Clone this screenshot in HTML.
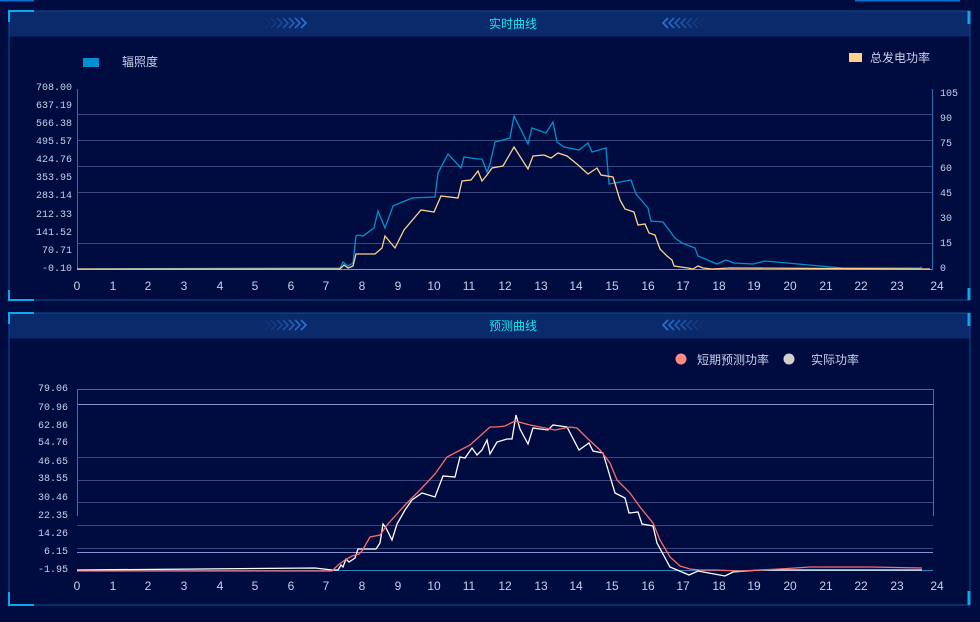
<!DOCTYPE html>
<html><head><meta charset="utf-8"><style>
html,body{margin:0;padding:0;background:#000c40;width:980px;height:622px;overflow:hidden}
svg{display:block;font-family:"Liberation Sans","Noto Sans CJK SC",sans-serif}
</style></head><body>
<svg width="980" height="622" viewBox="0 0 980 622">
<defs>
<g id="chl" fill="none" stroke-width="1.6">
<path d="M265 18l5 5-5 5" stroke="#12306e"/><path d="M271 18l5 5-5 5" stroke="#163a80"/><path d="M277 18l5 5-5 5" stroke="#1a4590"/><path d="M283 18l5 5-5 5" stroke="#1e52a4"/><path d="M289 18l5 5-5 5" stroke="#225eb6"/><path d="M295 18l5 5-5 5" stroke="#2868c4"/><path d="M301 18l5 5-5 5" stroke="#2e74d0"/>
</g>
<g id="chr" fill="none" stroke-width="1.6">
<path d="M668 18l-5 5 5 5" stroke="#2e74d0"/><path d="M674 18l-5 5 5 5" stroke="#2868c4"/><path d="M680 18l-5 5 5 5" stroke="#225eb6"/><path d="M686 18l-5 5 5 5" stroke="#1e52a4"/><path d="M692 18l-5 5 5 5" stroke="#1a4590"/><path d="M698 18l-5 5 5 5" stroke="#163a80"/><path d="M704 18l-5 5 5 5" stroke="#12306e"/>
</g>
</defs>
<rect width="980" height="622" fill="#000c40"/>
<rect x="0" y="0" width="34" height="1.5" fill="#0a6fd0"/>
<rect x="855" y="0" width="105" height="1.5" fill="#0a6fd0"/>
<!-- top panel -->
<rect x="9" y="11" width="961" height="289" fill="none" stroke="#0a4f95" stroke-width="1"/>
<rect x="9.5" y="11.5" width="960" height="25" fill="#0a2a6c"/>
<path d="M9 22V11H34" fill="none" stroke="#0aa8f0" stroke-width="2"/>
<path d="M9 290V300H34" fill="none" stroke="#0aa8f0" stroke-width="2"/>
<path d="M969 11V24" stroke="#0aa8f0" stroke-width="3"/>
<path d="M969 288V300" stroke="#0aa8f0" stroke-width="3"/>
<use href="#chl"/><use href="#chr"/>
<text x="513" y="28" fill="#19e4f0" font-size="12" text-anchor="middle">实时曲线</text>
<rect x="83" y="58" width="16" height="9" fill="#0090d0"/>
<text x="122" y="66" fill="#c8d0e8" font-size="12">辐照度</text>
<rect x="849" y="53" width="13" height="9" fill="#ffd08a"/>
<text x="870" y="62" fill="#c8d0e8" font-size="12">总发电功率</text>
<g stroke="#3a4680" stroke-width="1">
<line x1="77" y1="114.5" x2="932" y2="114.5"/><line x1="77" y1="140.5" x2="932" y2="140.5"/>
<line x1="77" y1="166.5" x2="932" y2="166.5"/><line x1="77" y1="192.5" x2="932" y2="192.5"/>
<line x1="77" y1="243.5" x2="932" y2="243.5"/>
</g>
<line x1="77" y1="269.5" x2="932" y2="269.5" stroke="#8a90c0"/>
<line x1="77.5" y1="89" x2="77.5" y2="270" stroke="#2a70b0"/>
<line x1="932.5" y1="89" x2="932.5" y2="270" stroke="#2a70b0"/>
<g fill="#c8d0e8" font-size="10" text-anchor="end" font-family="Liberation Mono,monospace">
<text x="72" y="90">708.00</text><text x="72" y="108">637.19</text><text x="72" y="126">566.38</text>
<text x="72" y="144">495.57</text><text x="72" y="162">424.76</text><text x="72" y="180">353.95</text>
<text x="72" y="198">283.14</text><text x="72" y="217">212.33</text><text x="72" y="235">141.52</text>
<text x="72" y="253">70.71</text><text x="72" y="271">-0.10</text>
</g>
<g fill="#c8d0e8" font-size="10" font-family="Liberation Mono,monospace">
<text x="940" y="96">105</text><text x="940" y="121">90</text><text x="940" y="146">75</text><text x="940" y="171">60</text>
<text x="940" y="196">45</text><text x="940" y="221">30</text><text x="940" y="246">15</text><text x="940" y="271">0</text>
</g>
<g fill="#c8d0e8" font-size="12" text-anchor="middle">
<text x="77" y="290">0</text><text x="113" y="290">1</text><text x="148" y="290">2</text><text x="184" y="290">3</text><text x="220" y="290">4</text><text x="255" y="290">5</text><text x="291" y="290">6</text><text x="326" y="290">7</text><text x="362" y="290">8</text><text x="398" y="290">9</text><text x="434" y="290">10</text><text x="469" y="290">11</text><text x="505" y="290">12</text><text x="541" y="290">13</text><text x="576" y="290">14</text><text x="612" y="290">15</text><text x="648" y="290">16</text><text x="683" y="290">17</text><text x="719" y="290">18</text><text x="754" y="290">19</text><text x="790" y="290">20</text><text x="826" y="290">21</text><text x="861" y="290">22</text><text x="897" y="290">23</text><text x="937" y="290">24</text>
</g>
<polyline fill="none" stroke="#0090d0" stroke-width="1.3" points="77,269 340,268 343,262 348,266 353,263 356,236 358,235 363,236 374,228 378,211 385,228 393,206 400,203 412,198 435,197 438,173 448,154 461,168 464,157 478,159 482,159 487,172 490,164 495,142 510,138 514,116 528,144 532,128 546,133 553,122 557,142 564,147 579,150 588,143 592,152 606,148 609,184 631,180 636,194 648,208 651,221 663,222 675,238 682,243 695,248 698,256 717,264 726,260 734,263 753,264 765,261 787,263 820,266 843,268 920,268 922,267"/>
<polyline fill="none" stroke="#ffd08a" stroke-width="1.3" points="77,269 340,269 344,265 348,268 353,266 356,254 375,254 382,248 385,236 395,248 404,230 421,210 434,212 441,196 458,198 462,181 471,180 478,171 482,181 487,175 492,168 503,166 514,147 528,169 533,156 544,155 551,158 558,153 567,156 577,164 588,174 597,168 601,175 613,177 620,200 625,209 634,212 638,225 645,224 649,233 655,235 660,249 667,256 672,260 674,266 688,268 693,269 698,266 703,268 712,269 730,268 930,269"/>
<!-- bottom panel -->
<rect x="9" y="313" width="961" height="292" fill="none" stroke="#0a4f95" stroke-width="1"/>
<rect x="9.5" y="313.5" width="960" height="25" fill="#0a2a6c"/>
<path d="M9 324V313H34" fill="none" stroke="#0aa8f0" stroke-width="2"/>
<path d="M9 592V605H34" fill="none" stroke="#0aa8f0" stroke-width="2"/>
<path d="M969 313V326" stroke="#0aa8f0" stroke-width="3"/>
<path d="M969 591V605" stroke="#0aa8f0" stroke-width="3"/>
<use href="#chl" y="302"/><use href="#chr" y="302"/>
<text x="513" y="330" fill="#19e4f0" font-size="12" text-anchor="middle">预测曲线</text>
<circle cx="681" cy="359" r="5.5" fill="#ff8a80"/>
<text x="697" y="364" fill="#c8d0e8" font-size="12">短期预测功率</text>
<circle cx="789" cy="359" r="5.5" fill="#d0d0d0"/>
<text x="811" y="364" fill="#c8d0e8" font-size="12">实际功率</text>
<g stroke="#3a4680" stroke-width="1">
<line x1="77" y1="457.5" x2="933" y2="457.5"/><line x1="77" y1="480.5" x2="933" y2="480.5"/>
<line x1="77" y1="502.5" x2="933" y2="502.5"/><line x1="77" y1="525.5" x2="933" y2="525.5"/>
<line x1="77" y1="548.5" x2="933" y2="548.5"/>
</g>
<line x1="77" y1="389.5" x2="933" y2="389.5" stroke="#3a70b0"/>
<line x1="77" y1="404.5" x2="933" y2="404.5" stroke="#8a90d0"/>
<line x1="77" y1="552.5" x2="933" y2="552.5" stroke="#8a90d0"/>
<line x1="77" y1="570.5" x2="933" y2="570.5" stroke="#2a80c0"/>
<line x1="77.5" y1="389" x2="77.5" y2="516" stroke="#3a70b0"/>
<line x1="933.5" y1="389" x2="933.5" y2="516" stroke="#3a70b0"/>
<g fill="#c8d0e8" font-size="10" text-anchor="end" font-family="Liberation Mono,monospace">
<text x="68" y="391">79.06</text><text x="68" y="410">70.96</text><text x="68" y="428">62.86</text>
<text x="68" y="445">54.76</text><text x="68" y="464">46.65</text><text x="68" y="481">38.55</text>
<text x="68" y="500">30.46</text><text x="68" y="518">22.35</text><text x="68" y="536">14.26</text>
<text x="68" y="554">6.15</text><text x="68" y="572">-1.95</text>
</g>
<g fill="#c8d0e8" font-size="12" text-anchor="middle">
<text x="77" y="590">0</text><text x="113" y="590">1</text><text x="148" y="590">2</text><text x="184" y="590">3</text><text x="220" y="590">4</text><text x="255" y="590">5</text><text x="291" y="590">6</text><text x="326" y="590">7</text><text x="362" y="590">8</text><text x="398" y="590">9</text><text x="434" y="590">10</text><text x="469" y="590">11</text><text x="505" y="590">12</text><text x="541" y="590">13</text><text x="576" y="590">14</text><text x="612" y="590">15</text><text x="648" y="590">16</text><text x="683" y="590">17</text><text x="719" y="590">18</text><text x="754" y="590">19</text><text x="790" y="590">20</text><text x="826" y="590">21</text><text x="861" y="590">22</text><text x="897" y="590">23</text><text x="937" y="590">24</text>
</g>
<polyline fill="none" stroke="#ffffff" stroke-width="1.3" points="77,570 200,569 315,568 332,570 338,570 341,565 343,567 346,559 349,562 355,558 358,549 376,549 380,543 383,524 386,528 392,540 397,524 405,510 412,500 422,493 435,497 443,476 455,477 460,457 465,458 472,448 477,455 482,450 487,440 490,454 497,442 507,439 512,439 516,415 520,429 528,444 533,428 540,429 548,430 553,425 560,426 567,427 579,450 589,443 593,451 603,453 615,493 625,498 629,513 638,512 642,524 653,526 657,543 670,567 689,575 698,571 725,576 733,572 760,570 922,570"/>
<polyline fill="none" stroke="#ff6a6a" stroke-width="1.3" points="77,571 332,571 338,565 345,560 352,556 359,554 362,551 370,537 380,535 387,525 405,505 420,490 435,474 447,457 470,445 490,427 497,427 505,426 515,421 530,425 545,428 555,430 570,427 577,428 587,438 600,450 610,463 617,480 630,493 640,507 653,523 660,540 670,557 680,566 690,569 700,570 715,570 740,571 780,569 810,567 870,567 922,568"/>
</svg>
</body></html>
